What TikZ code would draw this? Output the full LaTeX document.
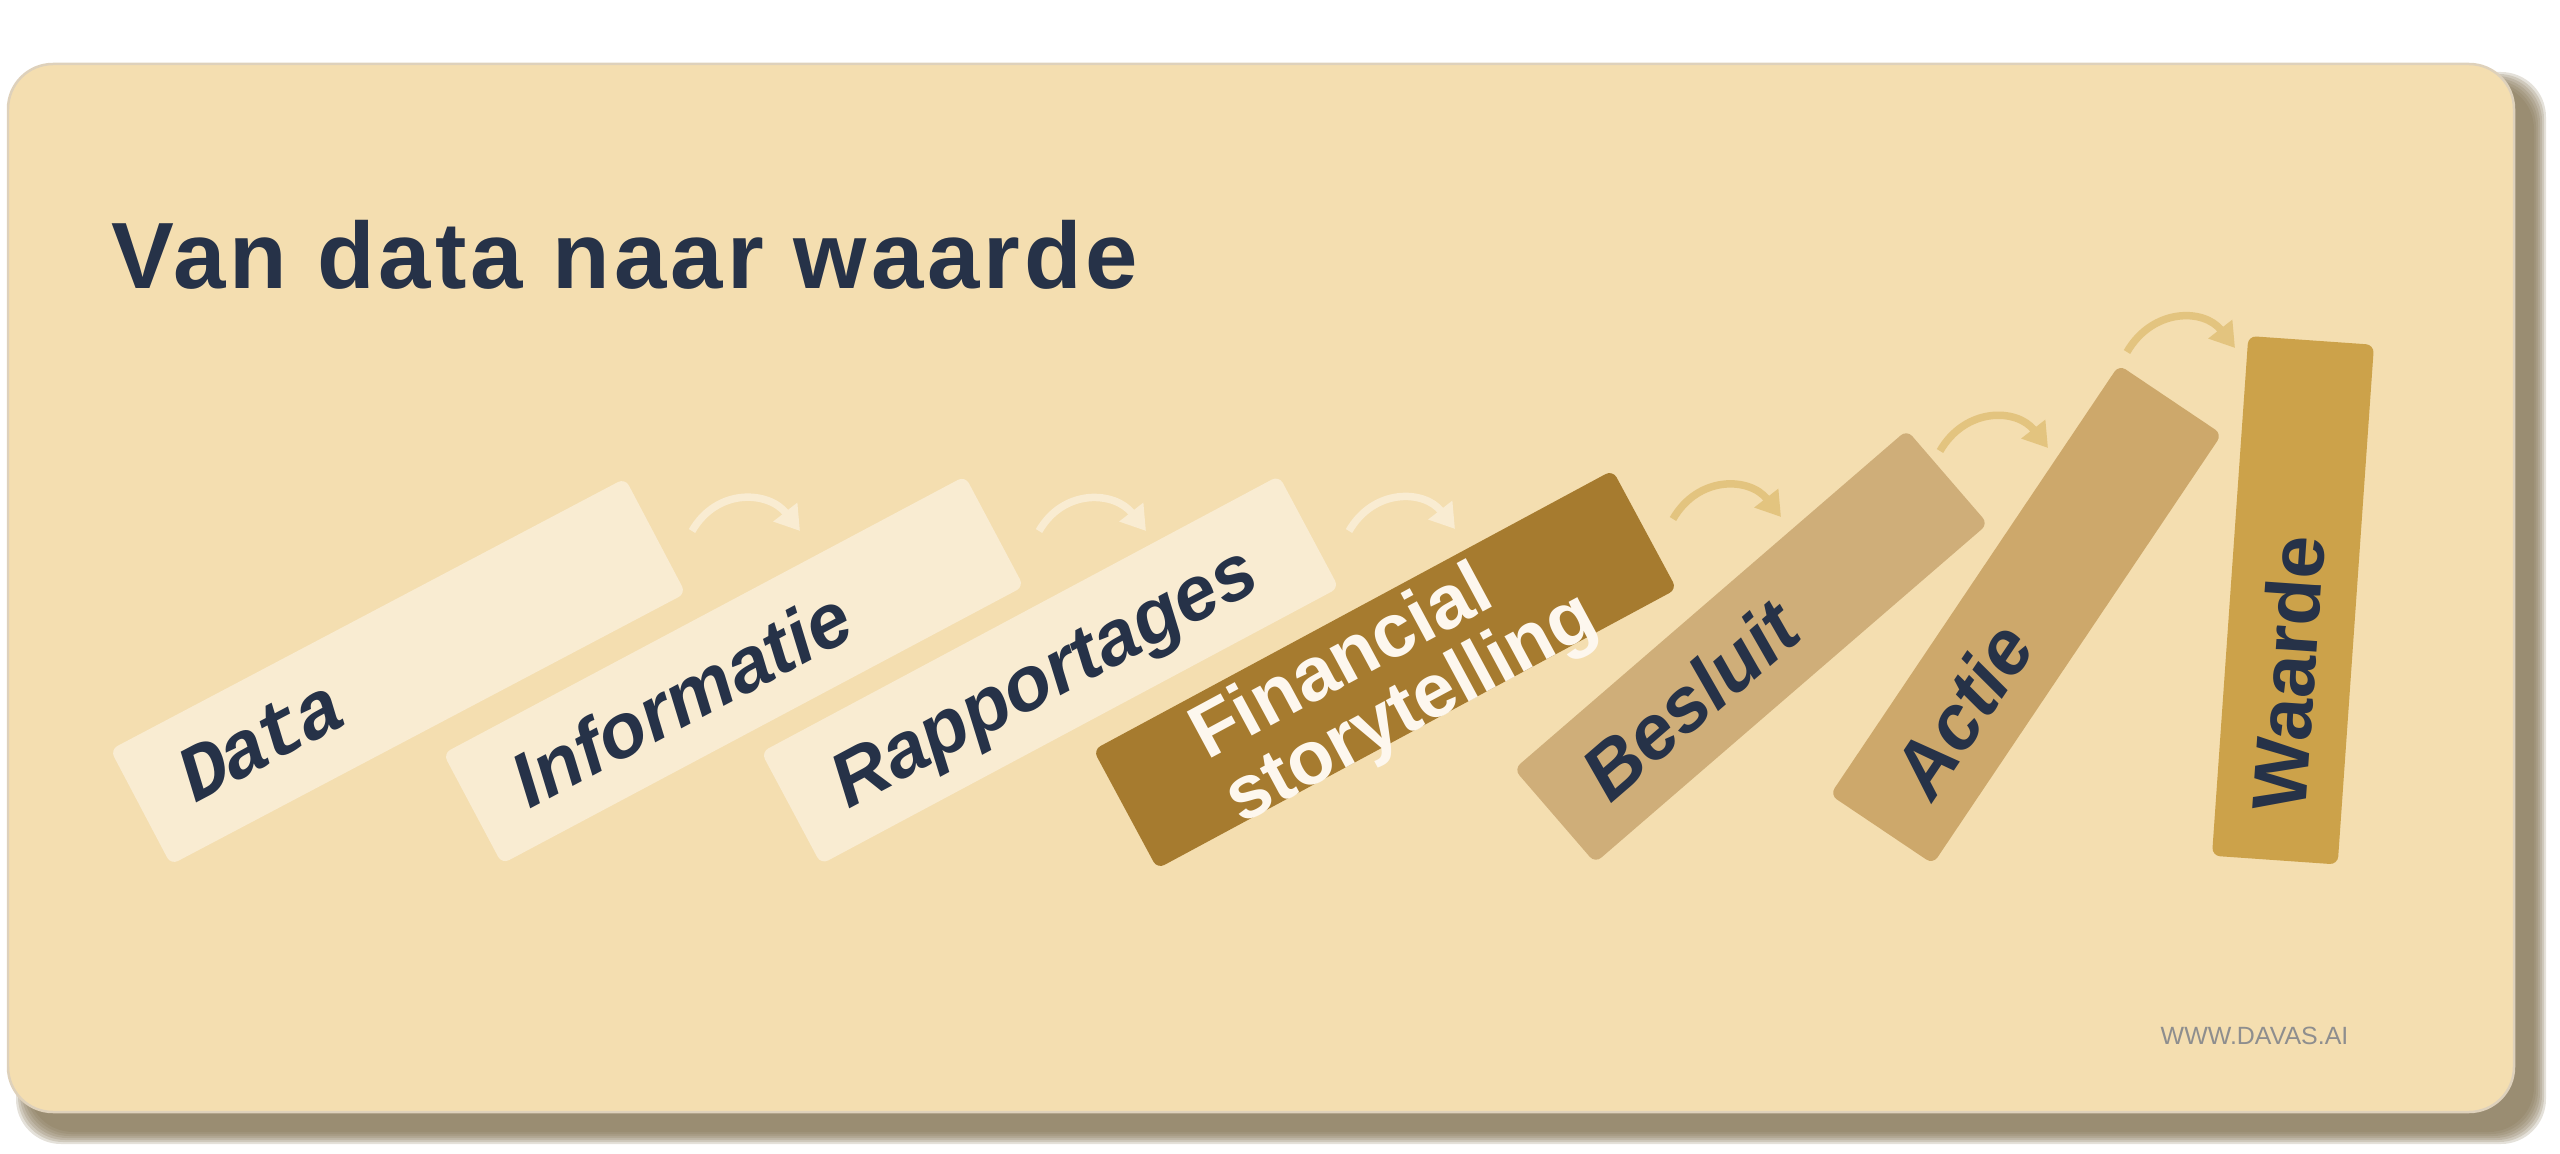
\documentclass[tikz,border=0pt]{standalone}
\usepackage{fontspec}
\setmainfont{Liberation Sans}
\newfontfamily\slabfont{Liberation Mono}
\usetikzlibrary{arrows.meta}

\definecolor{pagebg}{HTML}{F4DEB0}
\definecolor{cardline}{HTML}{DED1BB}
\definecolor{shadowcol}{HTML}{857555}
\definecolor{navy}{HTML}{263248}
\definecolor{cream}{HTML}{F9ECD2}
\definecolor{fin}{HTML}{A67B2F}
\definecolor{fintext}{HTML}{FDF7EE}
\definecolor{besl}{HTML}{CFAE79}
\definecolor{act}{HTML}{CDA86B}
\definecolor{waard}{HTML}{CCA24A}
\definecolor{arrowgold}{HTML}{E3C47F}
\definecolor{footgray}{HTML}{8E8E8E}

\begin{document}
\begin{tikzpicture}[x=0.1mm, y=0.1mm,
    domino/.style={rounded corners=0.8mm, inner xsep=5mm, inner ysep=0pt,
      align=left, text=navy, text height=15.7pt, text depth=0pt,
      font=\fontsize{21.9}{21.9}\selectfont\bfseries\itshape},
    flip/.style={line width=0.75mm, -{Triangle[width=2.9mm, length=2.4mm]},
      out=60, in=128, looseness=1.2}]

  \useasboundingbox (0,0) rectangle (2560,1153);

  % Shadow
  \foreach \s in {12,10,...,0}
    \fill[shadowcol, opacity=0.22, rounded corners=4.5mm]
      (28-\s,21-\s) rectangle (2534+\s,1069+\s);

  % Card
  \draw[fill=pagebg, draw=cardline, line width=0.25mm, rounded corners=4.5mm]
    (8,41) rectangle (2514,1089);

  % Title
  \node[anchor=base west, inner sep=0pt, text=navy,
    font=\fontsize{26.8}{30}\selectfont\bfseries\addfontfeatures{LetterSpace=4.2}]
    (title) at (111,864) {Van data naar waarde};

  % Dominoes
  \node[domino, fill=cream, minimum height=13mm, text width=48.2mm, rotate=27.8,
    text height=12.8pt,
    font=\fontsize{22.5}{22}\selectfont\slabfont\bfseries\itshape\addfontfeatures{LetterSpace=-6}]
    (data) at (398,481.5) {Data};
  \node[domino, fill=cream, minimum height=12.5mm, text width=49.1mm, rotate=28]
    (info) at (733.5,483) {Informatie};
  \node[domino, fill=cream, minimum height=12.7mm, text width=48.7mm, rotate=28.1]
    (rapport) at (1050,483) {Rapportages};
  \node[domino, fill=fin, text=fintext, minimum height=13.5mm, inner xsep=9.5mm,
    text width=40mm, rotate=28.3, text height=6mm, text depth=6.8mm,
    font=\fontsize{21.6}{20.5}\selectfont\bfseries]
    (story) at (1385,483.5) {Financial\\storytelling};
  \node[domino, fill=besl, minimum height=12.4mm, text width=41.9mm, rotate=40.8]
    (besluit) at (1751,506.5) {Besluit};
  \node[domino, fill=act, minimum height=12.4mm, text width=41.8mm, rotate=56.1]
    (actie) at (2026,538.5) {Actie};
  \node[domino, fill=waard, minimum height=12.6mm, text width=42.1mm, rotate=86,
    font=\fontsize{21.9}{21.9}\selectfont\bfseries]
    (waarde) at (2293,552.75) {Waarde};

  % Arrows between the dominoes
  \coordinate (a1s) at (692,622);  \coordinate (a1e) at (800,622);
  \coordinate (a2s) at (1039,622); \coordinate (a2e) at (1146,622);
  \coordinate (a3s) at (1349,622); \coordinate (a3e) at (1455,624);
  \coordinate (a4s) at (1673,634); \coordinate (a4e) at (1781,636);
  \coordinate (a5s) at (1940,702); \coordinate (a5e) at (2048,705);
  \coordinate (a6s) at (2127,801); \coordinate (a6e) at (2235,805);
  \draw[flip, cream] (a1s) to (a1e);
  \draw[flip, cream] (a2s) to (a2e);
  \draw[flip, cream] (a3s) to (a3e);
  \draw[flip, arrowgold] (a4s) to (a4e);
  \draw[flip, arrowgold] (a5s) to (a5e);
  \draw[flip, arrowgold] (a6s) to (a6e);

  % Footer
  \node[anchor=base west, inner sep=0pt, text=footgray,
    font=\fontsize{7.1}{8}\selectfont] (footer) at (2160,109) {WWW.DAVAS.AI};
\end{tikzpicture}
\end{document}
